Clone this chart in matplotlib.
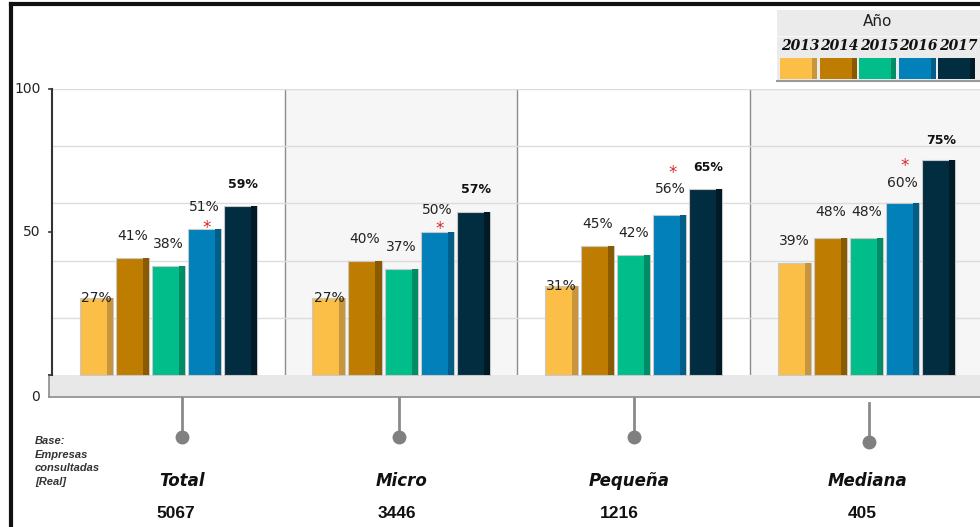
import matplotlib
matplotlib.use("Agg")
import matplotlib.pyplot as plt
import matplotlib.transforms as mtransforms
from matplotlib.patches import Rectangle
import numpy as np

# datos
categorias = ["Total", "Micro", "Pequeña", "Mediana"]
bases = ["5067", "3446", "1216", "405"]
anios = ["2013", "2014", "2015", "2016", "2017"]
v2013 = [27, 27, 31, 39]
v2014 = [41, 40, 45, 48]
v2015 = [38, 37, 42, 48]
v2016 = [51, 50, 56, 60]
v2017 = [59, 57, 65, 75]
series = [v2013, v2014, v2015, v2016, v2017]

colores = ["#FBBE46", "#BE7D00", "#00BD8A", "#0180BA", "#022D40"]
lados = ["#C7963C", "#8A5A00", "#008C65", "#005E88", "#001A26"]

W, H = 980, 527
fig = plt.figure(figsize=(W / 100, H / 100), dpi=100)

def fx(px):
    return px / W

def fy(py):
    return (H - py) / H

# ejes: x en paneles, y de 0 a 100 (con el piso debajo de 0)
ax = fig.add_axes([fx(52), fy(397), fx(980 - 52), (397 - 89) / H])
ax.set_xlim(0, 928 / 232.7)
ax.set_ylim(-7.7, 100)
ax.axis("off")

n = len(categorias)
# fondos de paneles
for i in range(n):
    fc = "white" if i % 2 == 0 else "#F6F6F6"
    ax.add_patch(Rectangle((i, 0), 1, 100, facecolor=fc, edgecolor="none", zorder=0))
    if i > 0:
        ax.plot([i, i], [0, 100], color="#8C8C8C", lw=1, zorder=1)

# rejilla
for g in [20, 40, 60, 80, 100]:
    ax.plot([0, 4.2], [g, g], color="#DCDCDC", lw=1, zorder=1)

# piso
ax.add_patch(Rectangle((-0.013, -7.7), 4.3, 7.7, facecolor="#E8E8E8",
                       edgecolor="none", zorder=2, clip_on=False))
ax.plot([-0.013, 4.3], [-7.6, -7.6], color="#8C8C8C", lw=1.2, zorder=3, clip_on=False)
ax.plot([-0.013, -0.013], [-7.7, 0], color="#8C8C8C", lw=1.2, zorder=3, clip_on=False)

# eje y
ax.plot([0, 0], [0, 100], color="#333333", lw=1.5, zorder=4, clip_on=False)
for t in [0, 50, 100]:
    ax.plot([-0.013, 0], [t, t], color="#333333", lw=1.2, zorder=4, clip_on=False)
for t, yy in [("100", 100), ("50", 50), ("0", -7.7)]:
    ax.text(-0.05, yy, t, ha="right", va="center", fontsize=10, color="#222222")

# barras
ancho = 0.142
paso = 0.155
lado = 0.026
off_lbl = [[0, 7.7, 7.7, 7.7, 7.7],
           [0, 7.7, 7.7, 7.7, 7.7],
           [0, 7.7, 7.7, 9.0, 7.7],
           [7.7, 9.0, 9.0, 7.3, 7.0]]
off_ast = [0.4, 1.0, 14.7, 13.2]
for j, vals in enumerate(series):
    xs = np.arange(n) + 0.5 + (j - 2) * paso
    ax.bar(xs, vals, width=ancho, color=colores[j], edgecolor="#C8C8C8",
           linewidth=0.8, zorder=5)
    ax.bar(xs + ancho / 2 - lado / 2, vals, width=lado, color=lados[j],
           edgecolor="none", zorder=6)
    for i, v in enumerate(vals):
        if j == 4:
            ax.text(xs[i] + 0.01, v + off_lbl[i][j], f"{v}%", ha="center", va="center",
                    fontsize=9, fontweight="bold", color="#111111", zorder=8)
        else:
            ax.text(xs[i], v + off_lbl[i][j], f"{v}%", ha="center", va="center",
                    fontsize=10, color="#222222", zorder=8)
        if j == 3:
            ax.text(xs[i] + 0.01, v + off_ast[i], "*", ha="center", va="center",
                    fontsize=12, color="#D42A2A", zorder=9)

# tallos, nombres y bases debajo
tr = mtransforms.blended_transform_factory(ax.transData, fig.transFigure)
tallo_dx = [0.06, -0.01, 0.0, 0.01]
tallo_y0 = [398, 398, 398, 403]
tallo_y1 = [437, 437, 437, 442]
nombre_dx = [0.06, 0.0, -0.02, 0.005]
base_dx = [0.03, -0.02, -0.06, -0.02]
for i in range(n):
    x = i + 0.5 + tallo_dx[i]
    ax.plot([x, x], [fy(tallo_y0[i]), fy(tallo_y1[i])], transform=tr,
            color="#8A8A8A", lw=2, clip_on=False, zorder=3)
    ax.plot([x], [fy(tallo_y1[i])], transform=tr, marker="o", ms=9,
            color="#808080", clip_on=False, zorder=3)
    ax.text(i + 0.5 + nombre_dx[i], fy(481), categorias[i], transform=tr,
            ha="center", va="center", fontsize=12, fontweight="bold",
            style="italic", color="#111111")
    ax.text(i + 0.5 + base_dx[i], fy(513), bases[i], transform=tr,
            ha="center", va="center", fontsize=12.5, fontweight="bold",
            family="Liberation Sans", color="#111111")

for k, linea in enumerate(["Base:", "Empresas", "consultadas", "[Real]"]):
    fig.text(fx(35), fy(441 + k * 13.7), linea, ha="left", va="center",
             fontsize=8, fontweight="bold", style="italic",
             family="Liberation Sans", color="#333333")

# leyenda
fig.add_artist(Rectangle((fx(777), fy(81)), fx(210), (81 - 10) / H,
                         transform=fig.transFigure, facecolor="#EBEBEB",
                         edgecolor="none", zorder=1))
fig.add_artist(Rectangle((fx(777), fy(37)), fx(210), 1 / H,
                         transform=fig.transFigure, facecolor="#F8F8F8",
                         edgecolor="none", zorder=2))
fig.add_artist(plt.Line2D([fx(777), fx(980)], [fy(80.5), fy(80.5)],
                          transform=fig.transFigure, color="#999999", lw=1.5))
fig.text(fx(878), fy(22), "Año", ha="center", va="center", fontsize=11,
         color="#222222")
for j, a in enumerate(anios):
    x0 = 780 + j * 39.5
    fig.text(fx(x0 + 20), fy(46), a, ha="center", va="center", fontsize=10,
             fontweight="bold", style="italic", family="DejaVu Serif",
             color="#111111")
    fig.add_artist(Rectangle((fx(x0), fy(79)), fx(37), 21 / H,
                             transform=fig.transFigure, facecolor=colores[j],
                             edgecolor="none", zorder=3))
    fig.add_artist(Rectangle((fx(x0 + 32), fy(79)), fx(5), 21 / H,
                             transform=fig.transFigure, facecolor=lados[j],
                             edgecolor="none", zorder=4))

# marco
fig.add_artist(plt.Line2D([fx(11), fx(980)], [fy(4), fy(4)],
                          transform=fig.transFigure, color="#111111", lw=3))
fig.add_artist(plt.Line2D([fx(11), fx(11)], [fy(4), fy(527)],
                          transform=fig.transFigure, color="#111111", lw=3))

fig.savefig("out.png", dpi=100)
